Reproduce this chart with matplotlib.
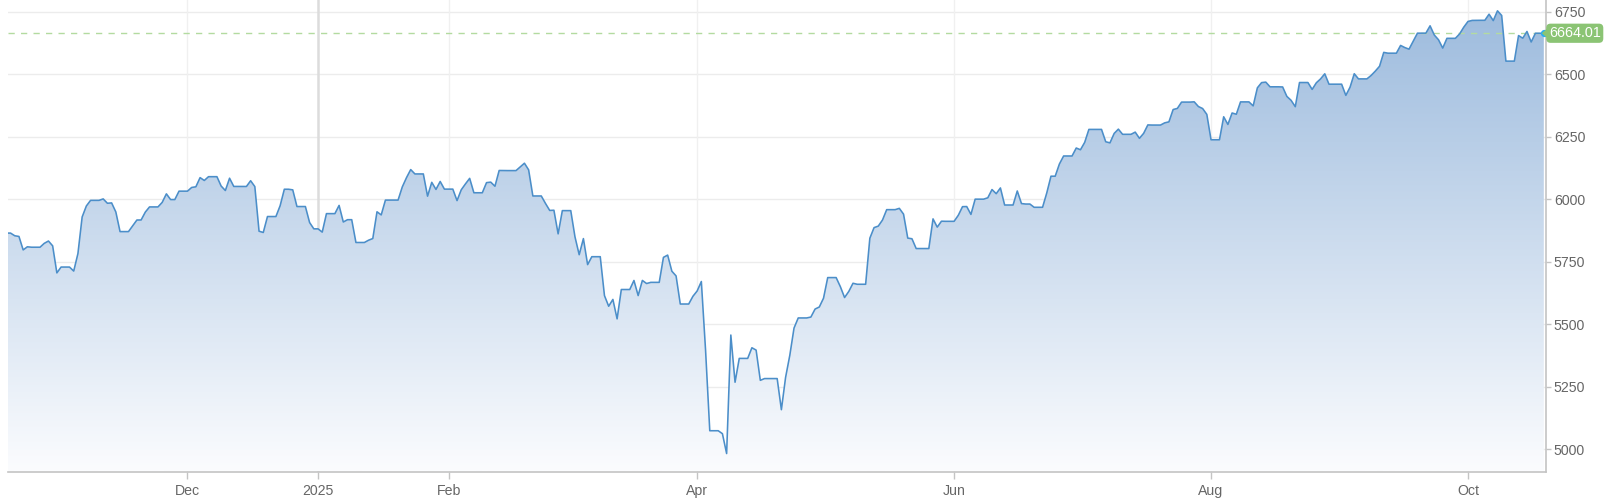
import numpy as np
import pandas as pd
import matplotlib
matplotlib.use("Agg")
import matplotlib.pyplot as plt
import matplotlib.dates as mdates
from matplotlib.patches import Polygon
from matplotlib.colors import LinearSegmentedColormap

plt.rcParams['font.family'] = ['Liberation Sans', 'DejaVu Sans']

# ---------------- data (daily closes, trading days) ----------------
start_day = "2024-10-18"
end_day = "2025-10-17"
holidays = ["2024-11-28", "2024-12-25", "2025-01-01", "2025-01-09", "2025-01-20",
            "2025-02-17", "2025-04-18", "2025-05-26", "2025-06-19", "2025-07-04",
            "2025-09-01"]

closes_2024_oct = [5864.67, 5853.98, 5851.20, 5797.42, 5809.86, 5808.12, 5823.52, 5832.92, 5813.67, 5705.45]
closes_2024_nov = [5728.80, 5712.69, 5782.76, 5929.04, 5973.10, 5995.54, 6001.35, 5983.99, 5985.38, 5949.17,
                   5870.62, 5893.62, 5916.98, 5917.11, 5948.71, 5969.34, 5987.37, 6021.63, 5998.74, 6032.38]
closes_2024_dec = [6047.15, 6049.88, 6086.49, 6075.11, 6090.27, 6052.85, 6034.91, 6084.19, 6051.25, 6051.09,
                   6074.08, 6050.61, 5872.16, 5867.08, 5930.85, 5974.07, 6040.04, 6037.59, 5970.84, 5906.94,
                   5881.63]
closes_2025_jan = [5868.55, 5942.47, 5975.38, 5909.03, 5918.25, 5827.04, 5836.22, 5842.91, 5949.91, 5937.34,
                   5996.66, 6049.24, 6086.37, 6118.71, 6101.24, 6012.28, 6067.70, 6039.31, 6071.17, 6040.53]
closes_2025_feb = [5994.57, 6037.88, 6061.48, 6083.57, 6025.99, 6066.44, 6068.50, 6051.97, 6115.07, 6114.63,
                   6129.58, 6144.15, 6117.52, 6013.13, 5983.25, 5955.25, 5956.06, 5861.57, 5954.50]
closes_2025_mar = [5849.72, 5778.15, 5842.63, 5738.52, 5770.20, 5614.56, 5572.07, 5599.30, 5521.52, 5638.94,
                   5675.12, 5614.66, 5675.29, 5662.89, 5667.56, 5767.57, 5776.65, 5712.20, 5693.31, 5580.94,
                   5611.85]
closes_2025_apr = [5633.07, 5670.97, 5396.52, 5074.08, 5062.25, 4982.77, 5456.90, 5268.05, 5363.36, 5405.97,
                   5396.63, 5275.70, 5282.70, 5158.20, 5287.76, 5375.86, 5484.77, 5525.21, 5528.75, 5560.83,
                   5569.06]
closes_2025_may = [5604.14, 5686.67, 5650.38, 5606.91, 5631.28, 5663.94, 5659.91, 5844.19, 5886.55, 5892.58,
                   5916.93, 5958.38, 5963.60, 5940.46, 5844.61, 5842.01, 5802.82, 5921.54, 5888.55, 5912.17,
                   5911.69]
closes_2025_jun = [5935.94, 5970.37, 5970.81, 5939.30, 6000.36, 6005.88, 6038.81, 6022.24, 6045.26, 5976.97,
                   6033.11, 5982.72, 5980.87, 5967.84, 6025.17, 6092.18, 6092.16, 6141.02, 6173.07, 6204.95]
closes_2025_jul = [6198.01, 6227.42, 6279.35, 6229.98, 6225.52, 6263.26, 6280.46, 6259.75, 6268.56, 6243.76,
                   6263.70, 6297.36, 6296.79, 6305.60, 6309.62, 6358.91, 6363.35, 6388.64, 6389.77, 6370.86,
                   6362.90, 6339.39]
closes_2025_aug = [6238.01, 6329.94, 6299.19, 6345.06, 6340.00, 6389.45, 6373.45, 6445.76, 6466.58, 6468.54,
                   6449.80, 6449.15, 6411.37, 6395.78, 6370.17, 6466.91, 6439.32, 6465.94, 6481.40, 6501.86,
                   6460.26]
closes_2025_sep = [6415.54, 6448.26, 6502.08, 6481.50, 6495.15, 6512.61, 6532.04, 6587.47, 6584.29, 6615.28,
                   6606.76, 6600.35, 6631.96, 6664.36, 6693.75, 6656.92, 6637.97, 6604.72, 6643.70, 6661.21,
                   6688.46]
closes_2025_oct = [6711.20, 6715.35, 6715.79, 6740.28, 6714.59, 6753.72, 6735.11, 6552.51, 6654.72, 6644.31,
                   6671.06, 6629.07, 6664.01]

last_value = 6664.01
last_label = "6664.01"

view_start = "2024-10-19"
view_end = "2025-10-19"

tick_dates = ["2024-12-01", "2025-01-01", "2025-02-01", "2025-04-01", "2025-06-01", "2025-08-01", "2025-10-01"]
tick_labels = ["Dec", "2025", "Feb", "Apr", "Jun", "Aug", "Oct"]
y_ticks = [5000, 5250, 5500, 5750, 6000, 6250, 6500, 6750]

# ---------------- build series ----------------
closes = (closes_2024_oct + closes_2024_nov + closes_2024_dec + closes_2025_jan + closes_2025_feb +
          closes_2025_mar + closes_2025_apr + closes_2025_may + closes_2025_jun + closes_2025_jul +
          closes_2025_aug + closes_2025_sep + closes_2025_oct)
bdays = pd.bdate_range(start_day, end_day)
tdays = bdays[~bdays.isin(pd.to_datetime(holidays))]
s = pd.Series(closes, index=tdays)
cal = pd.date_range(view_start, view_end, freq="D")
s_cal = s.reindex(s.index.union(cal)).ffill().loc[cal]
x = mdates.date2num(s_cal.index.to_pydatetime())
y = s_cal.values

# ---------------- figure ----------------
W, H = 1612, 504
fig = plt.figure(figsize=(W / 100, H / 100), dpi=100)
ax = fig.add_axes([8 / W, (H - 471.5) / H, (1545.5 - 8) / W, 471.5 / H])
ymin, ymax = 4911, 6797
xmin = mdates.date2num(pd.Timestamp(view_start)) + 0.4
xmax = mdates.date2num(pd.Timestamp(view_end)) + 0.4
ax.set_xlim(xmin, xmax)
ax.set_ylim(ymin, ymax)

# grid lines
for v in y_ticks:
    ax.axhline(v, color="#ececec", lw=1.0, zorder=0)
tick_nums = [mdates.date2num(pd.Timestamp(d)) for d in tick_dates]
for t, lab in zip(tick_nums, tick_labels):
    if lab == "2025":
        ax.axvline(t, color="#dcdcdc", lw=1.8, zorder=0.5)
    else:
        ax.axvline(t, color="#f0f0f0", lw=1.0, zorder=0.5)

# gradient area
poly = ax.fill_between(x, y, ymin, color="none", lw=0)
cmap = LinearSegmentedColormap.from_list("g", ["#fbfcfe", "#9bbadd"])
grad = np.linspace(0, 1, 256).reshape(-1, 1)
im = ax.imshow(grad, cmap=cmap, aspect="auto", origin="lower",
               extent=[xmin, xmax, ymin, ymax], zorder=1, interpolation="bilinear")
path = poly.get_paths()[0]
im.set_clip_path(path, transform=ax.transData)

# line
ax.plot(x, y, color="#4b8ec9", lw=1.15, zorder=3, solid_joinstyle="round")

# last value dashed line
ax.axhline(last_value, color="#b3dba0", lw=1.0, dashes=(4.5, 4.5), zorder=2)

# axes styling
for sp in ["top", "left"]:
    ax.spines[sp].set_visible(False)
ax.spines["bottom"].set_color("#c4c4c4")
ax.spines["bottom"].set_linewidth(1.2)
ax.spines["right"].set_color("#c4c4c4")
ax.spines["right"].set_linewidth(1.2)
ax.yaxis.tick_right()
ax.set_yticks(y_ticks)
ax.set_yticklabels([str(v) for v in y_ticks])
ax.set_xticks(tick_nums)
ax.set_xticklabels(tick_labels)
ax.tick_params(axis="x", length=5, width=1, color="#c4c4c4", labelcolor="#666666", labelsize=10.2, pad=4)
ax.tick_params(axis="y", length=3.5, width=1, color="#c4c4c4", labelcolor="#666666", labelsize=10.2, pad=2.5)

# last-value marker and label
fig.canvas.draw()
px, py = ax.transData.transform((x[-1], last_value))
green = "#8bc474"
tri = Polygon([[px - 2, py], [px + 6, py + 7], [px + 6, py - 7]], closed=True,
              transform=None, facecolor=green, edgecolor="none", zorder=5, clip_on=False)
fig.patches.append(tri)
fig.text((px + 5) / W, py / H, last_label, color="white", fontsize=10.4, va="center", ha="left",
         bbox=dict(boxstyle="round,pad=0.18,rounding_size=0.3", fc=green, ec="none"), zorder=6)
ax.plot([x[-1]], [last_value], "o", ms=5.2, color="#2aaef0", zorder=7, clip_on=False, mec="none")

fig.savefig("out.png", dpi=100)
